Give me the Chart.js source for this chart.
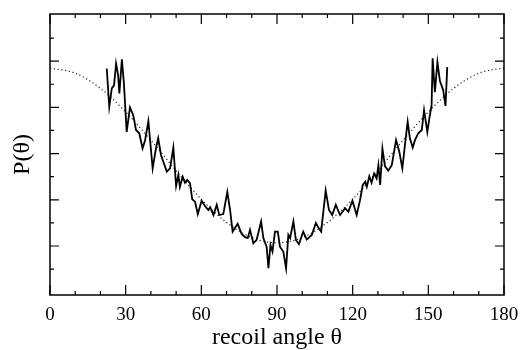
<!DOCTYPE html>
<html>
<head>
<meta charset="utf-8">
<script src="https://cdn.jsdelivr.net/npm/chart.js@4"></script>
<style>
  body { margin: 0; background: #fff; }
  #wrap { width: 522px; height: 350px; }
</style>
</head>
<body>
<div id="wrap"><canvas id="plot" width="522" height="350"></canvas></div>
<script>
// measured recoil distribution (jagged curve)
const measuredAngles = [
    22.5, 23.5, 24.5, 25.4, 26.2, 27.0, 27.5, 28.5, 29.3, 30.4,
    31.7, 33.0, 34.1, 35.4, 36.7, 37.7, 39.0, 40.7, 42.0, 42.9,
    44.0, 46.3, 47.6, 48.9, 50.0, 50.9, 51.5, 52.6, 53.5, 54.4,
    55.5, 56.4, 57.5, 58.6, 60.1, 61.5, 62.8, 63.5, 64.8, 66.1,
    67.1, 68.7, 70.3, 71.4, 72.4, 74.4, 76.0, 77.3, 78.4, 79.3,
    80.6, 81.9, 83.7, 84.6, 85.9, 86.6, 87.4, 88.2, 89.2, 90.3,
    91.2, 92.5, 93.6, 94.5, 95.2, 96.5, 97.5, 98.7, 100.4, 101.8,
    103.8, 105.4, 106.4, 107.5, 109.3, 110.6, 111.9, 113.3, 115.0, 117.0,
    118.3, 119.9, 121.6, 122.9, 124.0, 125.0, 125.6, 126.6, 127.5, 128.5,
    129.5, 130.2, 130.9, 131.8, 132.8, 134.1, 135.5, 137.2, 138.5, 139.7,
    140.8, 141.8, 142.7, 143.8, 144.7, 146.0, 147.4, 148.3, 149.6, 150.4,
    151.3, 151.7, 152.6, 153.6, 154.6, 155.9, 156.8, 157.5
];
const measuredValues = [
    4.84, 4.01, 4.41, 4.48, 4.95, 4.70, 4.30, 5.04, 4.52, 3.47,
    4.00, 3.83, 3.51, 3.44, 3.11, 3.29, 3.70, 2.68, 3.11, 3.33,
    2.97, 2.61, 2.68, 3.13, 2.30, 2.54, 2.28, 2.50, 2.37, 2.43,
    2.36, 2.01, 1.96, 1.69, 1.98, 1.86, 1.78, 1.84, 1.67, 1.89,
    1.67, 1.69, 2.17, 1.78, 1.31, 1.48, 1.26, 1.19, 1.17, 1.35,
    1.06, 1.13, 1.53, 1.17, 0.98, 0.52, 1.02, 0.88, 1.31, 1.31,
    0.98, 0.88, 0.52, 1.24, 1.17, 1.53, 1.13, 1.04, 1.31, 1.14,
    1.24, 1.50, 1.40, 1.31, 2.20, 1.78, 1.67, 1.89, 1.67, 1.82,
    1.74, 1.98, 1.67, 1.99, 2.32, 2.39, 2.28, 2.51, 2.37, 2.57,
    2.46, 2.75, 2.32, 3.11, 2.73, 2.63, 2.75, 3.29, 3.04, 2.68,
    3.22, 3.69, 3.33, 3.13, 3.29, 3.44, 3.51, 3.94, 3.47, 3.76,
    4.05, 5.06, 4.33, 4.98, 4.57, 4.37, 4.03, 4.87
];

// smooth reference curve (dotted)
const fitAngles = [0, 10, 20, 30, 40, 50, 60, 70, 80, 90, 100, 110, 120, 130, 140, 150, 160, 170, 180];
const fitValues = [4.85, 4.74, 4.41, 3.90, 3.29, 2.63, 2.01, 1.51, 1.18, 1.07, 1.18, 1.51, 2.01, 2.63, 3.29, 3.90, 4.41, 4.74, 4.85];

const xMajor = [0, 30, 60, 90, 120, 150, 180];
const xMinor = [10, 20, 40, 50, 70, 80, 100, 110, 130, 140, 160, 170];
const yMajor = [1, 2, 3, 4, 5];
const yMinor = [0.5, 1.5, 2.5, 3.5, 4.5, 5.5];

const SERIF = "'Liberation Serif', 'DejaVu Serif', serif";

// frame and inward tick marks on all four sides
const frameTicks = {
    id: 'frameTicks',
    afterDraw(chart) {
        const { ctx, chartArea: a, scales } = chart;
        ctx.save();
        ctx.strokeStyle = '#000';
        ctx.lineWidth = 1.5;
        ctx.strokeRect(a.left, a.top, a.right - a.left, a.bottom - a.top);
        ctx.lineWidth = 1.2;
        ctx.beginPath();
        const xt = (v, len) => {
            const px = scales.x.getPixelForValue(v);
            ctx.moveTo(px, a.bottom); ctx.lineTo(px, a.bottom - len);
            ctx.moveTo(px, a.top); ctx.lineTo(px, a.top + len);
        };
        const yt = (v, len) => {
            const py = scales.y.getPixelForValue(v);
            ctx.moveTo(a.left, py); ctx.lineTo(a.left + len, py);
            ctx.moveTo(a.right, py); ctx.lineTo(a.right - len, py);
        };
        xMajor.forEach(v => xt(v, 10));
        xMinor.forEach(v => xt(v, 4));
        yMajor.forEach(v => yt(v, 9));
        yMinor.forEach(v => yt(v, 4));
        ctx.stroke();
        ctx.restore();
    }
};

const ctx = document.getElementById('plot').getContext('2d');
new Chart(ctx, {
    type: 'line',
    data: {
        datasets: [
            {
                label: 'measured',
                data: measuredAngles.map((a, i) => ({ x: a, y: measuredValues[i] })),
                borderColor: '#000',
                borderWidth: 1.8,
                pointRadius: 0,
                tension: 0
            },
            {
                label: 'fit',
                data: fitAngles.map((a, i) => ({ x: a, y: fitValues[i] })),
                borderColor: '#222',
                borderWidth: 1.2,
                borderDash: [1.2, 2.6],
                pointRadius: 0,
                cubicInterpolationMode: 'monotone'
            }
        ]
    },
    options: {
        responsive: false,
        animation: false,
        layout: { padding: { top: 14, right: 18, left: 0, bottom: 0 } },
        plugins: {
            legend: { display: false },
            tooltip: { enabled: false }
        },
        scales: {
            x: {
                type: 'linear',
                min: 0,
                max: 180,
                afterFit(scale) {
                    scale.height = 55;
                    scale.paddingLeft = 0;
                    scale.paddingRight = 0;
                },
                afterBuildTicks(scale) { scale.ticks = xMajor.map(v => ({ value: v })); },
                grid: { display: false, drawTicks: false },
                border: { display: false },
                ticks: {
                    color: '#000',
                    padding: 9,
                    maxRotation: 0,
                    autoSkip: false,
                    font: { family: SERIF, size: 19 }
                },
                title: {
                    display: true,
                    text: 'recoil angle θ',
                    color: '#000',
                    padding: { top: 0, bottom: 0 },
                    font: { family: SERIF, size: 24, lineHeight: 1 }
                }
            },
            y: {
                min: -0.06,
                max: 6.02,
                afterFit(scale) { scale.width = 50; },
                grid: { display: false, drawTicks: false },
                border: { display: false },
                ticks: { display: false },
                title: {
                    display: true,
                    text: 'P(θ)',
                    color: '#000',
                    padding: { top: 8, bottom: 0 },
                    font: { family: SERIF, size: 24, lineHeight: 1.2 }
                }
            }
        }
    },
    plugins: [frameTicks]
});
</script>
</body>
</html>
